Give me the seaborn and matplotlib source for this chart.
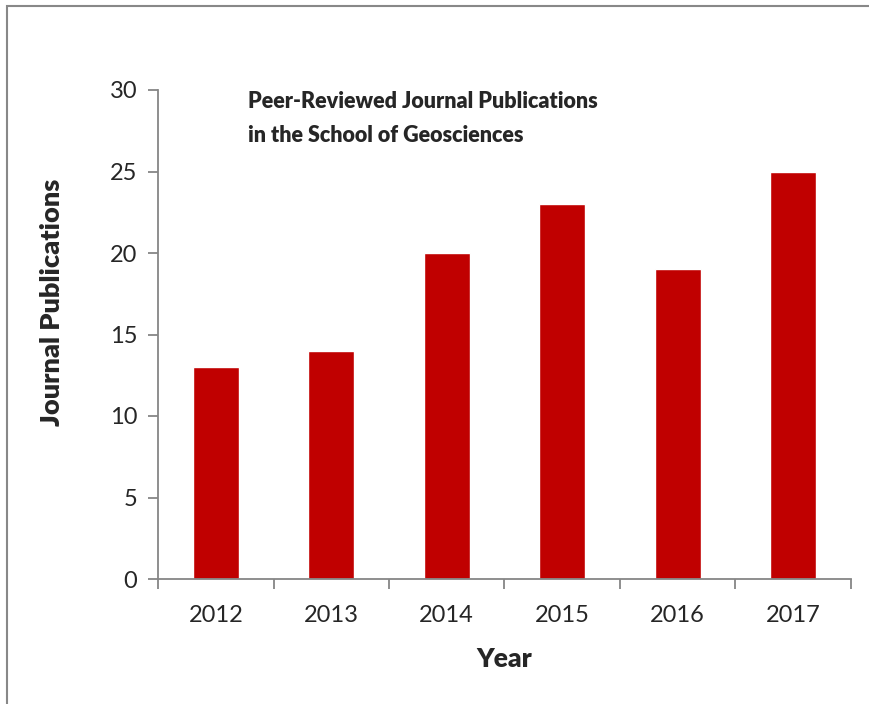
import matplotlib
matplotlib.use("Agg")
import matplotlib.pyplot as plt
import matplotlib.patches as mpatches
import seaborn as sns
import pandas as pd

years = ["2012", "2013", "2014", "2015", "2016", "2017"]
publications = [13, 14, 20, 23, 19, 25]
y_ticks = [0, 5, 10, 15, 20, 25, 30]

sns.set_style("white")
plt.rcParams['font.family'] = ['Lato', 'DejaVu Sans']

df = pd.DataFrame({"Year": years, "Publications": publications})

fig = plt.figure(figsize=(8.7, 7.04), dpi=100)
ax = fig.add_axes([158 / 870, 1 - 579 / 704, (851 - 158) / 870, (579 - 90) / 704])

sns.barplot(data=df, x="Year", y="Publications", color="#C00000",
            width=0.4, saturation=1, ax=ax)

ax.set_xlim(-0.5, len(years) - 0.5)
ax.set_ylim(0, 30)
ax.set_yticks(y_ticks)
ax.tick_params(axis="y", labelsize=17, length=7, width=1.3, color="#868686",
               direction="out", pad=8, left=True)
ax.tick_params(axis="x", which="major", labelsize=17, length=0, pad=19)
ax.set_xticks([i - 0.5 for i in range(len(years) + 1)], minor=True)
ax.tick_params(axis="x", which="minor", length=7, width=1.3, color="#868686",
               direction="out", bottom=True)

for side in ["top", "right"]:
    ax.spines[side].set_visible(False)
for side in ["left", "bottom"]:
    ax.spines[side].set_color("#868686")
    ax.spines[side].set_linewidth(1.3)

ax.set_xlabel("Year", fontsize=19, fontweight="heavy")
ax.xaxis.set_label_coords(0.5, -0.14)
ax.set_ylabel("Journal Publications", fontsize=19.5, fontweight="heavy")
ax.yaxis.set_label_coords(-0.135, 0.566)

ax.text(0.13, 0.997, "Peer-Reviewed Journal Publications\nin the School of Geosciences",
        transform=ax.transAxes, ha="left", va="top", fontsize=15.5,
        fontweight="heavy", linespacing=1.75)

# outer chart border (only left and top edges fall inside the picture)
fig.patches.append(mpatches.Rectangle((7 / 870, -0.1), 1.2, 1.1 - 6 / 704,
                                      transform=fig.transFigure, fill=False,
                                      edgecolor="#888888", linewidth=1.5))

fig.savefig("out.png", dpi=100)
